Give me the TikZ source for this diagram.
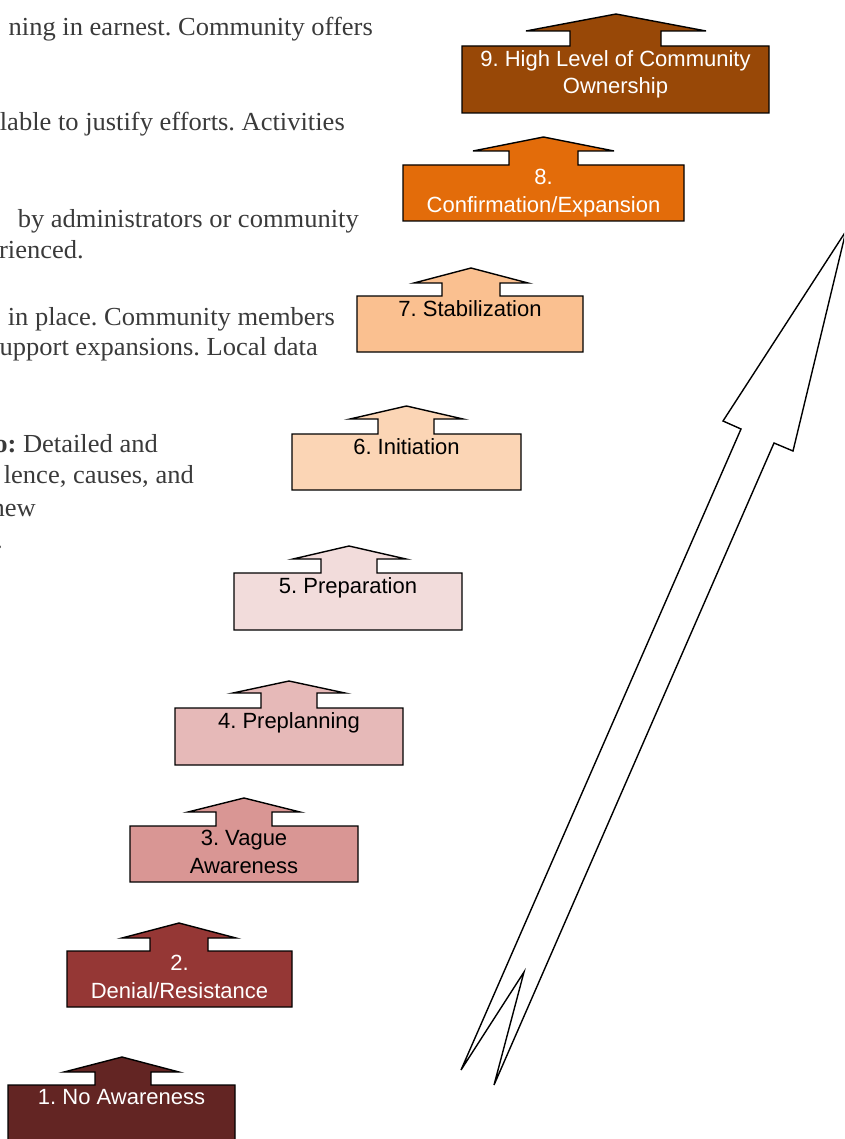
\documentclass[tikz,border=0pt]{standalone}
\usepackage{fontspec}
\usepackage{tikz}
\usetikzlibrary{positioning}
\setmainfont[FakeStretch=1.02]{Liberation Serif}
\newfontfamily\stagefont{Liberation Sans}
\frenchspacing
\definecolor{stageA}{HTML}{632523}
\definecolor{stageB}{HTML}{953735}
\definecolor{stageC}{HTML}{D99694}
\definecolor{stageD}{HTML}{E6B9B8}
\definecolor{stageE}{HTML}{F2DCDB}
\definecolor{stageF}{HTML}{FBD5B5}
\definecolor{stageG}{HTML}{FAC090}
\definecolor{stageH}{HTML}{E36C0A}
\definecolor{stageI}{HTML}{984807}
\definecolor{bodygray}{HTML}{3A3A3A}

\begin{document}
\begin{tikzpicture}[x=1pt,y=-1pt,
  stage/.style={draw=black,line width=1.4pt,line join=miter},
  stagelabel/.style={anchor=north,inner sep=4pt,align=center,
    font=\stagefont\fontsize{22}{27.5}\selectfont},
  bodyline/.style={anchor=base east,inner sep=0pt,text=bodygray,
    font=\fontsize{26}{31}\selectfont}]
\clip (0,0) rectangle (844,1139);
\useasboundingbox (0,0) rectangle (844,1139);

\node[bodyline] (t1) at (373,36) {ning in earnest. Community offers};
\node[bodyline] (t2) at (345,131) {lable to justify efforts. Activities};
\node[bodyline] (t3) at (359,228) {by administrators or community};
\node[bodyline] (t4) at (84,259) {rienced.};
\node[bodyline] (t5) at (335,325) {in place. Community members};
\node[bodyline] (t6) at (318,355) {upport expansions. Local data};
\node[bodyline] (t7) at (158,452) {\bfseries o:\mdseries{} Detailed and};
\node[bodyline] (t8) at (194,483) {lence, causes, and};
\node[bodyline] (t9) at (36,516) {new};
\node[bodyline] (t10) at (3,548) {.};

\filldraw[stage,fill=stageI] (462,113) -- (462,46) -- (570,46) -- (570,31) -- (526,31) -- (616,14)
  -- (706,31) -- (661,31) -- (661,46) -- (769,46) -- (769,113) -- cycle;
\node[stagelabel,text=white] (s9) at (615.5,46) {9. High Level of Community\\Ownership};

\filldraw[stage,fill=stageH] (403,221) -- (403,165) -- (509,165) -- (509,151) -- (473,151) -- (543.5,137)
  -- (614,151) -- (578,151) -- (578,165) -- (684,165) -- (684,221) -- cycle;
\node[stagelabel,text=white] (s8) at (543.5,165) {8.\\Confirmation/Expansion};

\filldraw[stage,fill=stageG] (357,352) -- (357,296) -- (442,296) -- (442,283) -- (414,283) -- (471,268)
  -- (528,283) -- (500,283) -- (500,296) -- (583,296) -- (583,352) -- cycle;
\node[stagelabel] (s7) at (470,296) {7. Stabilization};

\filldraw[stage,fill=stageF] (292,490) -- (292,434) -- (378,434) -- (378,419) -- (350,419) -- (406.5,406)
  -- (463,419) -- (434,419) -- (434,434) -- (521,434) -- (521,490) -- cycle;
\node[stagelabel] (s6) at (406.5,434) {6. Initiation};

\filldraw[stage,fill=stageE] (234,630) -- (234,573) -- (321,573) -- (321,559) -- (293,559) -- (349,546)
  -- (406,559) -- (377,559) -- (377,573) -- (462,573) -- (462,630) -- cycle;
\node[stagelabel] (s5) at (348,573) {5. Preparation};

\filldraw[stage,fill=stageD] (175,765) -- (175,708) -- (261,708) -- (261,693) -- (233,693) -- (289,681)
  -- (345,693) -- (317,693) -- (317,708) -- (403,708) -- (403,765) -- cycle;
\node[stagelabel] (s4) at (289,708) {4. Preplanning};

\filldraw[stage,fill=stageC] (130,882) -- (130,826) -- (216,826) -- (216,812) -- (188,812) -- (244,798)
  -- (300,812) -- (272,812) -- (272,826) -- (358,826) -- (358,882) -- cycle;
\node[stagelabel] (s3) at (244,826) {3. Vague\\Awareness};

\filldraw[stage,fill=stageB] (67,1007) -- (67,951) -- (150,951) -- (150,938) -- (122,938) -- (179,923)
  -- (236,938) -- (208,938) -- (208,951) -- (292,951) -- (292,1007) -- cycle;
\node[stagelabel,text=white] (s2) at (179.5,951) {2.\\Denial/Resistance};

\filldraw[stage,fill=stageA] (8,1141) -- (8,1085) -- (95,1085) -- (95,1072) -- (64,1072) -- (122,1057)
  -- (179,1072) -- (151,1072) -- (151,1085) -- (235,1085) -- (235,1141) -- cycle;
\node[stagelabel,text=white] (s1) at (121.5,1085) {1. No Awareness};

\draw[stage,fill=white] (846,231) -- (793,451) -- (774,443) -- (494,1085) -- (524,972)
  -- (461,1070) -- (741,429) -- (723,421) -- cycle;
\end{tikzpicture}
\end{document}
